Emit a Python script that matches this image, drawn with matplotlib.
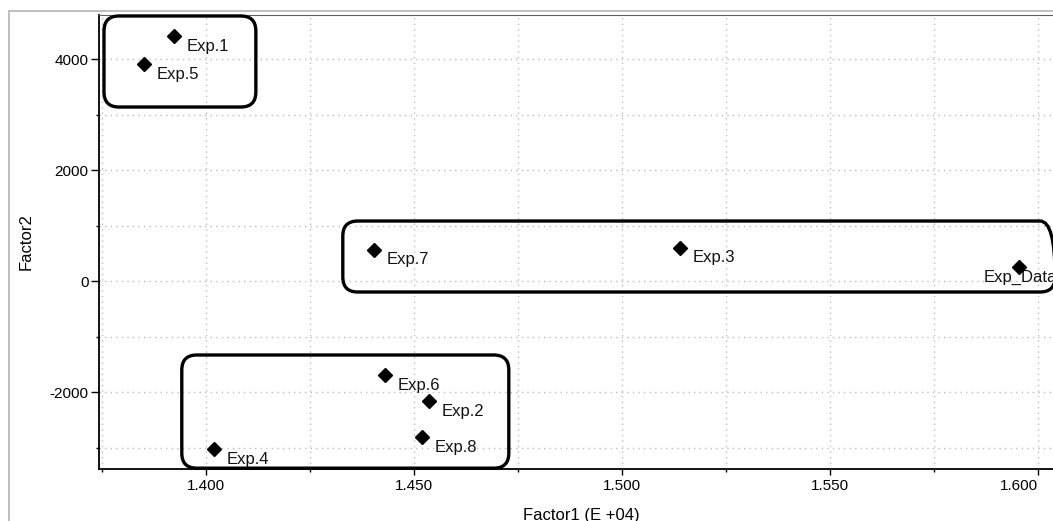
import matplotlib.pyplot as plt
from matplotlib.patches import FancyBboxPatch, Rectangle
from matplotlib.ticker import MultipleLocator

plt.rcParams['font.family'] = ['Liberation Sans', 'DejaVu Sans']

# factor scores of the experiments
labels = ['Exp.1', 'Exp.5', 'Exp.7', 'Exp.3', 'Exp_Data',
          'Exp.6', 'Exp.2', 'Exp.8', 'Exp.4']
factor1 = [1.3923, 1.3851, 1.4404, 1.5139, 1.5954,
           1.4430, 1.4536, 1.4519, 1.4019]
factor2 = [4414, 3910, 559, 595, 252,
           -1694, -2162, -2811, -3027]

# groups of experiments: x0, x1, y0, y1
groups = [
    (1.3755, 1.4120, 3135, 4775),
    (1.4329, 1.6041, -198, 1081),
    (1.3942, 1.4728, -3372, -1333),
]

fig = plt.figure(figsize=(10.53, 5.21), dpi=100)

# grey frame round the chart area
fig.patches.append(Rectangle((9 / 1053, -0.1), 1.2, 1 - 11 / 521 + 0.1,
                             transform=fig.transFigure, fill=False,
                             edgecolor='#b4b4b4', linewidth=1.2))

ax = fig.add_axes([99 / 1053, 52 / 521, 964 / 1053, 454 / 521])
ax.set_xlim(1.3743, 1.606)
ax.set_ylim(-3387, 4793)

ax.xaxis.set_major_locator(MultipleLocator(0.05))
ax.xaxis.set_minor_locator(MultipleLocator(0.025))
ax.yaxis.set_major_locator(MultipleLocator(2000))
ax.yaxis.set_minor_locator(MultipleLocator(1000))
ax.xaxis.set_major_formatter(lambda v, pos: f'{v:.3f}')
ax.yaxis.set_major_formatter(lambda v, pos: f'{v:.0f}')

ax.grid(True, which='both', color='#bdbdbd', linestyle=(0, (1, 3)), linewidth=1)
ax.set_axisbelow(True)

ax.tick_params(axis='both', which='both', direction='out', colors='black',
               labelsize=11, width=1)
ax.tick_params(axis='x', which='major', length=4.5, pad=3)
ax.tick_params(axis='x', which='minor', length=2.5)
ax.tick_params(axis='y', which='major', length=6, pad=1.5)
ax.tick_params(axis='y', which='minor', length=2.5)

ax.spines['right'].set_visible(False)
ax.spines['top'].set_color('#606060')
ax.spines['left'].set_linewidth(1.3)
ax.spines['bottom'].set_linewidth(1.3)

ax.set_xlabel('Factor1 (E +04)', fontsize=12)
ax.set_ylabel('Factor2', fontsize=12)
ax.xaxis.set_label_coords(0.5, -0.086)
ax.yaxis.set_label_coords(-0.068, 0.5)

ax.plot(factor1, factor2, 'D', color='black', markersize=7.5, zorder=4)

for name, x, y in zip(labels, factor1, factor2):
    dx = -35 if name == 'Exp_Data' else 13
    ax.annotate(name, (x, y), xytext=(dx, -10), textcoords='offset pixels',
                ha='left', va='center', fontsize=12, color='#111111', zorder=3)

# rounded group outlines; corner radius kept round on screen
p0 = ax.transData.transform((0, 0))
p1 = ax.transData.transform((1, 1))
xpx = p1[0] - p0[0]
ypx = p1[1] - p0[1]
radius = 15 / xpx
for x0, x1, y0, y1 in groups:
    box = FancyBboxPatch((x0, y0), x1 - x0, y1 - y0,
                         boxstyle=f'round,pad=0,rounding_size={radius}',
                         mutation_aspect=xpx / ypx,
                         fill=False, edgecolor='black', linewidth=2.4,
                         clip_on=False, zorder=5)
    ax.add_patch(box)

# last tick label is pulled inside the figure edge
fig.canvas.draw()
for lbl in ax.get_xticklabels():
    if lbl.get_text() == '1.600':
        lbl.set_horizontalalignment('right')

fig.savefig('out.png', dpi=100)
